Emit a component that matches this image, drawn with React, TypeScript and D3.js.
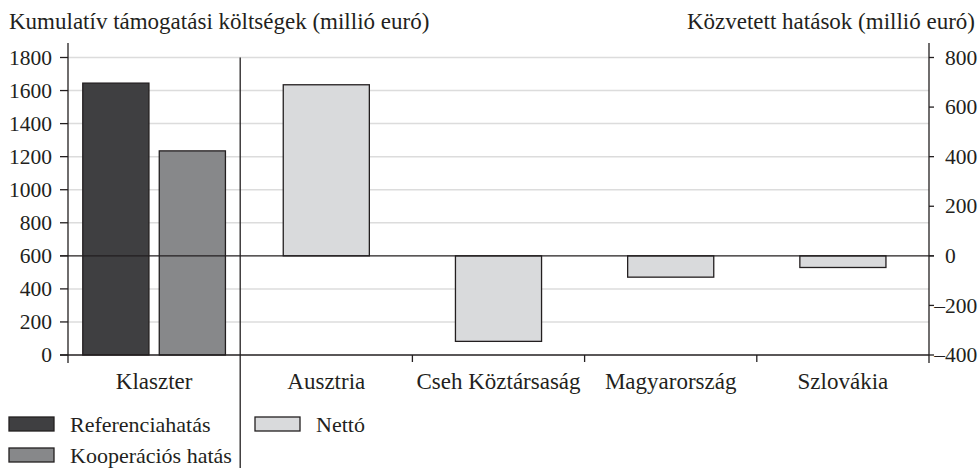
import React, { useRef, useEffect } from 'react';
import * as d3 from 'd3';

const categories = ['Klaszter', 'Ausztria', 'Cseh Köztársaság', 'Magyarország', 'Szlovákia'];
const clusterKeys = ['Referenciahatás', 'Kooperációs hatás'];
const clusterValues = [1645, 1235];
const countries = ['Ausztria', 'Cseh Köztársaság', 'Magyarország', 'Szlovákia'];
const nettoValues = [690, -345, -86, -47];
const leftTicks = [0, 200, 400, 600, 800, 1000, 1200, 1400, 1600, 1800];
const rightTicks = [-400, -200, 0, 200, 400, 600, 800];

const W = 979;
const H = 468;
const INK = '#231f20';
const FONT = 'Liberation Serif, DejaVu Serif, serif';
const clusterColors = ['#3f3f41', '#87888a'];
const nettoColor = '#d9dadc';

const App: React.FC = () => {
  const svgRef = useRef<SVGSVGElement>(null);

  useEffect(() => {
    if (!svgRef.current) return;
    const svg = d3.select(svgRef.current);
    svg.selectAll('*').remove();
    svg.attr('font-family', FONT);

    const left = 68, right = 929, top = 57.5, bottom = 355;

    const x = d3.scaleBand<string>().domain(categories).range([left, right]).padding(0);
    const yL = d3.scaleLinear().domain([0, 1800]).range([bottom, top]);
    const yR = d3.scaleLinear().domain([-400, 800]).range([bottom, top]);
    const sub = d3.scaleBand<string>()
      .domain(clusterKeys)
      .range([0, x.bandwidth()])
      .paddingInner(0.135)
      .paddingOuter(0.193);

    // gridlines
    svg.append('g')
      .selectAll('line')
      .data(leftTicks.filter(t => t !== 0 && t !== 600))
      .enter()
      .append('line')
      .attr('x1', left).attr('x2', right)
      .attr('y1', d => yL(d)).attr('y2', d => yL(d))
      .attr('stroke', '#dcdcdc').attr('stroke-width', 1.5);

    // separator between cluster and countries
    const sepX = x('Ausztria')!;
    svg.append('line')
      .attr('x1', sepX).attr('x2', sepX)
      .attr('y1', top).attr('y2', H)
      .attr('stroke', INK).attr('stroke-width', 1.3);

    // cluster bars
    svg.append('g')
      .selectAll('rect')
      .data(clusterValues)
      .enter()
      .append('rect')
      .attr('x', (d, i) => x('Klaszter')! + sub(clusterKeys[i])!)
      .attr('width', sub.bandwidth())
      .attr('y', d => yL(d))
      .attr('height', d => yL(0) - yL(d))
      .attr('fill', (d, i) => clusterColors[i])
      .attr('stroke', INK).attr('stroke-width', 1.3);

    // netto bars on the right scale
    svg.append('g')
      .selectAll('rect')
      .data(nettoValues)
      .enter()
      .append('rect')
      .attr('x', (d, i) => x(countries[i])! + x.bandwidth() * 0.25)
      .attr('width', x.bandwidth() * 0.5)
      .attr('y', d => yR(Math.max(0, d)))
      .attr('height', d => Math.abs(yR(d) - yR(0)))
      .attr('fill', nettoColor)
      .attr('stroke', INK).attr('stroke-width', 1.3);

    // zero line of right axis
    svg.append('line')
      .attr('x1', left - 8).attr('x2', right + 5)
      .attr('y1', yR(0)).attr('y2', yR(0))
      .attr('stroke', INK).attr('stroke-width', 1.3);

    // bottom axis
    svg.append('line')
      .attr('x1', left - 8).attr('x2', right)
      .attr('y1', bottom).attr('y2', bottom)
      .attr('stroke', INK).attr('stroke-width', 1.3);
    svg.append('g')
      .selectAll('line')
      .data(categories.slice(2))
      .enter()
      .append('line')
      .attr('x1', d => x(d)!).attr('x2', d => x(d)!)
      .attr('y1', bottom).attr('y2', bottom + 7)
      .attr('stroke', INK).attr('stroke-width', 1.3);
    svg.append('g')
      .selectAll('text')
      .data(categories)
      .enter()
      .append('text')
      .attr('x', d => x(d)! + x.bandwidth() / 2)
      .attr('y', 389)
      .attr('text-anchor', 'middle')
      .attr('font-size', 23)
      .attr('fill', INK)
      .text(d => d);

    // left axis
    svg.append('line')
      .attr('x1', left).attr('x2', left)
      .attr('y1', 43).attr('y2', 363)
      .attr('stroke', INK).attr('stroke-width', 1.3);
    const lt = svg.append('g').selectAll('g').data(leftTicks).enter().append('g');
    lt.append('line')
      .attr('x1', left - 8).attr('x2', left)
      .attr('y1', d => yL(d)).attr('y2', d => yL(d))
      .attr('stroke', INK).attr('stroke-width', 1.3);
    lt.append('text')
      .attr('x', 52)
      .attr('y', d => yL(d))
      .attr('dy', '0.33em')
      .attr('text-anchor', 'end')
      .attr('font-size', 21.5)
      .attr('fill', INK)
      .text(d => d);

    // right axis
    svg.append('line')
      .attr('x1', right).attr('x2', right)
      .attr('y1', 43).attr('y2', 363)
      .attr('stroke', INK).attr('stroke-width', 1.3);
    const rt = svg.append('g').selectAll('g').data(rightTicks).enter().append('g');
    rt.append('line')
      .attr('x1', right).attr('x2', right + 5)
      .attr('y1', d => yR(d)).attr('y2', d => yR(d))
      .attr('stroke', INK).attr('stroke-width', 1.3);
    rt.append('text')
      .attr('x', 945)
      .attr('y', d => yR(d))
      .attr('dy', '0.33em')
      .attr('font-size', 21.5)
      .attr('fill', INK)
      .text(d => Math.abs(d));
    rt.filter(d => d < 0)
      .append('text')
      .attr('x', 945)
      .attr('y', d => yR(d))
      .attr('dy', '0.33em')
      .attr('text-anchor', 'end')
      .attr('font-size', 21.5)
      .attr('fill', INK)
      .text('–');

    // axis titles
    svg.append('text')
      .attr('x', 9).attr('y', 29)
      .attr('font-size', 23).attr('fill', INK)
      .text('Kumulatív támogatási költségek (millió euró)');
    svg.append('text')
      .attr('x', 975).attr('y', 29)
      .attr('text-anchor', 'end')
      .attr('font-size', 23).attr('fill', INK)
      .text('Közvetett hatások (millió euró)');

    // legend
    const legend = [
      { label: clusterKeys[0], color: clusterColors[0], lx: 9, ly: 417 },
      { label: clusterKeys[1], color: clusterColors[1], lx: 9, ly: 448 },
      { label: 'Nettó', color: nettoColor, lx: 255, ly: 417 },
    ];
    const lg = svg.append('g').selectAll('g').data(legend).enter().append('g');
    lg.append('rect')
      .attr('x', d => d.lx).attr('y', d => d.ly)
      .attr('width', 45).attr('height', 14)
      .attr('fill', d => d.color)
      .attr('stroke', INK).attr('stroke-width', 1.3);
    lg.append('text')
      .attr('x', d => d.lx + 61).attr('y', d => d.ly + 15)
      .attr('font-size', 22).attr('fill', INK)
      .text(d => d.label);
  }, []);

  return (
    <div style={{ position: 'absolute', left: 0, top: 0 }}>
      <svg
        ref={svgRef}
        width={W}
        height={H}
        style={{ display: 'block', background: '#fff' }}
      />
    </div>
  );
};

export default App;
